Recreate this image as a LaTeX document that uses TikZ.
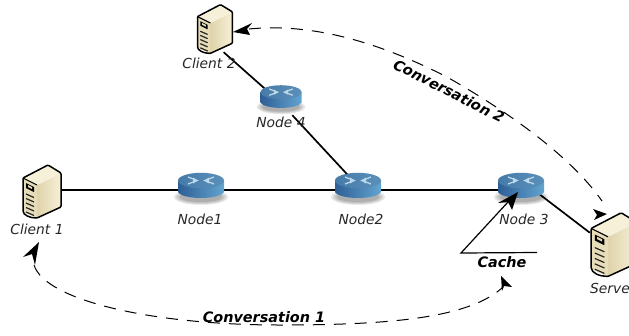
\documentclass[tikz,border=0pt]{standalone}
\usepackage{fontspec}
\setmainfont{DejaVu Sans}
\usetikzlibrary{shadings,fadings}
\definecolor{cfront}{HTML}{E6DCB8}
\definecolor{cside}{HTML}{F6F0D8}
\definecolor{csidedk}{HTML}{DFD3AA}
\definecolor{rtopa}{HTML}{467BA8}
\definecolor{rtopb}{HTML}{5A90BA}
\definecolor{rdark}{HTML}{2F5E96}
\definecolor{rlight}{HTML}{62A5D0}
\definecolor{rmark}{HTML}{BCD8E8}
\tikzset{
  x=1pt,y=-1pt,
  lab/.style={font=\fontsize{13.8}{15}\selectfont\itshape,inner sep=0pt,text=black!85},
  blab/.style={font=\fontsize{14.4}{16}\selectfont\bfseries\itshape,inner sep=0pt},
  box/.style={inner sep=0pt,minimum width=38pt,minimum height=54pt},
  rbox/.style={inner sep=0pt,minimum width=46pt,minimum height=24pt},
  link/.style={line width=1.7pt,black},
  conv/.style={line width=1pt,dash pattern=on 12pt off 9pt},
  thin line/.style={line width=1.2pt},
  head/.style={fill=black,draw=none},
  srvpic/.pic={
    \fill[cfront] (-19,-13) -- (-5,-6) -- (-5,27) -- (-19,21) -- cycle;
    \shade[left color=csidedk,right color=cside] (-5,-6) -- (-5,27) -- (19,16) -- (19,-18) -- cycle;
    \fill[cside] (-19,-13) -- (6,-26) -- (19,-18) -- (-5,-6) -- cycle;
    \draw[line width=1.5pt,line join=round,black,rounded corners=1pt] (-19,-13) -- (6,-26) -- (19,-18) -- (19,16) -- (-5,27)
      .. controls (-12,27) and (-19,24) .. (-19,19) -- cycle;
    \draw[line width=1.1pt,black] (-19,-13) -- (-5,-6);
    \fill[black] (-16,-8) -- (-8,-4) -- (-8,1) -- (-16,-3) -- cycle;
    \fill[cfront] (-14,-6) -- (-10,-4) -- (-10,-2) -- (-14,-4) -- cycle;
    \foreach \d in {0,4.5,9,13.5,18}{
      \draw[line width=1.2pt,black!85] (-16,3+\d) -- (-8,6.5+\d);
    }
  },
  rtpic/.pic={
    \fill[black,opacity=.09] (0,10) ellipse [x radius=27,y radius=8];
    \fill[black,opacity=.09] (0,10) ellipse [x radius=25,y radius=7];
    \fill[black,opacity=.09] (0,10) ellipse [x radius=23,y radius=6];
    \fill[black,opacity=.09] (0,10) ellipse [x radius=21,y radius=5];
    \shade[left color=rdark,right color=rlight] (-23,-6.5) -- (-23,5) .. controls (-18,13) and (18,13) .. (23,5) -- (23,-6.5) -- cycle;
    \shade[left color=rtopa,right color=rtopb] (0,-6.5) ellipse [x radius=23,y radius=7.7];
    \draw[rmark,line width=1.3pt] (-13,-10) -- (-4,-6.5) -- (-13,-3);
    \draw[rmark,line width=1.3pt] (13,-10) -- (4,-6.5) -- (13,-3);
    \fill[rmark] (-3,-6.5) -- (-8,-9.5) -- (-8,-3.5) -- cycle;
    \fill[rmark] (3,-6.5) -- (8,-9.5) -- (8,-3.5) -- cycle;
  }
}
\begin{document}
\begin{tikzpicture}
\useasboundingbox (0,0) rectangle (629,335);
\clip (0,0) rectangle (629,335);
% anchors of devices
\node[box] (c1) at (42,190) {};
\node[box,minimum width=35pt,minimum height=47pt] (c2) at (215,28.5) {};
\node[box,minimum width=50pt,minimum height=64pt] (srv) at (615,245) {};
\node[rbox] (n1) at (201,190) {};
\node[rbox] (n2) at (358,190) {};
\node[rbox] (n3) at (521,190) {};
\node[rbox,minimum width=41pt] (n4) at (281,103) {};
\coordinate (n3out) at (530,187);
\coordinate (n2in) at (358,186);
% links
\draw[link] (c1) -- (n1);
\draw[link] (n1) -- (n2);
\draw[link] (n2) -- (n3);
\draw[link] (n3out) -- (srv.154);
\draw[link] (c2.-70) -- (n4);
\draw[link] (n4) -- (n2in);
% devices
\pic at (42,191) {srvpic};
\pic[scale=.92] at (215,28.5) {srvpic};
\pic[scale=1.2] at (614,244) {srvpic};
\pic at (201,187) {rtpic};
\pic at (358,187) {rtpic};
\pic at (521,187) {rtpic};
\pic[scale=.9] at (281,98) {rtpic};
% labels
\node[lab] (lc1) at (37,229) {Client 1};
\node[lab] (lc2) at (209,63) {Client 2};
\node[lab] (ln1) at (200,219) {Node1};
\node[lab] (ln2) at (361,219) {Node2};
\node[lab] (ln3) at (524,219) {Node 3};
\node[lab] (ln4) at (281,122) {Node 4};
\node[lab,anchor=west] (lsrv) at (590,288) {Server};
\node[blab] (lcache) at (502,262) {Cache};
\node[blab] (lconv1) at (264,317) {Conversation 1};
\node[blab,rotate=-27] (lconv2) at (449,91) {Conversation 2};
% cache pointer
\coordinate (cl) at (461,253);
\coordinate (cr) at (537,252.5);
\coordinate (ct) at (518,192);
\draw[thin line] (cr) -- (cl) -- (508,202);
\fill[head] (ct) -- (512,210) -- (508,202) -- (498,203) -- cycle;
% conversation 1
\coordinate (a1) at (34,265);
\coordinate (a2) at (503,287);
\coordinate (a1t) at (39,242);
\coordinate (a2t) at (501,276);
\coordinate (a1m) at (280,325);
\draw[conv] (a1) .. controls (45,300) and (150,325) .. (a1m) .. controls (390,325) and (470,318) .. (a2);
\fill[head] (a1t) -- (23,257) -- (32,254) -- (35,265) -- cycle;
\fill[head] (a2t) -- (512,287) -- (504,286) -- (502,291) -- cycle;
% conversation 2
\coordinate (b1) at (249,29);
\coordinate (bm) at (447,77);
\coordinate (b2) at (602,201);
\coordinate (b1t) at (233,32);
\coordinate (b2t) at (607,214);
\draw[conv] (b1) .. controls (320,22) and (390,48) .. (bm) .. controls (505,110) and (570,155) .. (b2);
\fill[head] (b1t) -- (252,23) -- (247,29) -- (250,35) -- cycle;
\fill[head] (b2t) -- (593,209) -- (597,215) -- (594,220) -- cycle;
\end{tikzpicture}
\end{document}
